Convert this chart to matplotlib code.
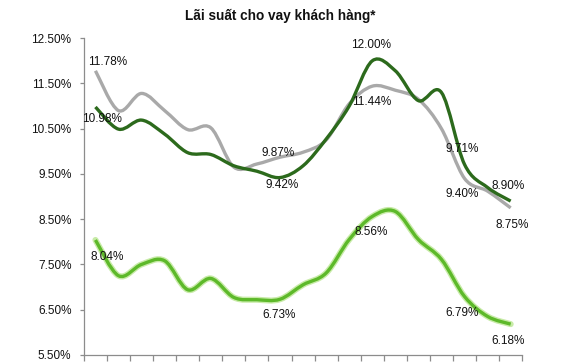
import matplotlib.pyplot as plt
import numpy as np
from matplotlib.path import Path
from matplotlib.patches import PathPatch

plt.rcParams['font.family'] = ['Liberation Sans', 'DejaVu Sans']

# ---- data ----
periods = list(range(1, 20))
gray_rate = [11.78, 10.90, 11.28, 10.90, 10.48, 10.52, 9.65, 9.72, 9.87, 9.98,
             10.25, 11.05, 11.44, 11.35, 11.15, 10.50, 9.40, 9.12, 8.75]
dark_rate = [10.98, 10.49, 10.69, 10.38, 9.97, 9.93, 9.68, 9.56, 9.42, 9.68,
             10.27, 11.00, 12.00, 11.78, 11.12, 11.30, 9.71, 9.20, 8.90]
light_rate = [8.04, 7.25, 7.50, 7.58, 6.94, 7.19, 6.77, 6.72, 6.73, 7.05,
              7.31, 8.05, 8.56, 8.67, 8.05, 7.61, 6.79, 6.35, 6.18]
y_ticks = [5.5, 6.5, 7.5, 8.5, 9.5, 10.5, 11.5, 12.5]

# labelled points: (index, offset in pixels)
gray_labels = [(0, (12, 9)), (8, (-2, 4)), (12, (-1, -16)), (16, (-2, -16)), (18, (2, -17))]
dark_labels = [(0, (7, -12)), (8, (2, -7)), (12, (-1, 16)), (16, (-2, 15)), (18, (-3, 15))]
light_labels = [(0, (12, -17)), (8, (-1, -16)), (12, (-1, -16)), (16, (-2, -16)), (18, (-3, -17))]


def smooth_path(x, y):
    # Excel-style smoothed line: cubic bezier through every point
    pts = np.column_stack([x, y]).astype(float)
    n = len(pts)
    verts = [pts[0]]
    codes = [Path.MOVETO]
    for i in range(n - 1):
        p0 = pts[i - 1] if i > 0 else pts[i]
        p1 = pts[i]
        p2 = pts[i + 1]
        p3 = pts[i + 2] if i + 2 < n else pts[i + 1]
        c1 = p1 + (p2 - p0) / 6.0
        c2 = p2 - (p3 - p1) / 6.0
        verts += [c1, c2, p2]
        codes += [Path.CURVE4] * 3
    return Path(verts, codes)


fig = plt.figure(figsize=(5.67, 3.64), dpi=100)
ax = fig.add_axes([0.148, 0.025, 0.773, 0.870])

x = np.array(periods)

series = [
    (gray_rate, '#A9A9A9', gray_labels, None),
    (dark_rate, '#2C6A1C', dark_labels, None),
    (light_rate, '#5DB92A', light_labels, '#C8EBA8'),
]
for vals, color, labels, glow in series:
    path = smooth_path(x, vals)
    if glow:
        ax.add_patch(PathPatch(path, fill=False, edgecolor=glow, lw=4.4,
                               capstyle='round', joinstyle='round'))
    ax.add_patch(PathPatch(path, fill=False, edgecolor=color, lw=2.4,
                           capstyle='butt', joinstyle='round'))
    for idx, off in labels:
        ax.annotate(f'{vals[idx]:.2f}%', (x[idx], vals[idx]), xytext=off,
                    textcoords='offset pixels', ha='center', va='center',
                    fontsize=8.5, color='#111111', zorder=5)

ax.set_xlim(0.5, 19.5)
ax.set_ylim(5.5, 12.5)
ax.set_yticks(y_ticks)
ax.set_yticklabels([f'{v:.2f}%' for v in y_ticks])
ax.set_xticks(np.arange(0.5, 20.0, 1.0))
ax.set_xticklabels([])

for side in ['top', 'right']:
    ax.spines[side].set_visible(False)
for side in ['left', 'bottom']:
    ax.spines[side].set_color('#8C8C8C')
    ax.spines[side].set_linewidth(0.9)
ax.tick_params(axis='y', length=3, width=0.9, color='#8C8C8C', pad=6,
               labelsize=8.5, labelcolor='#111111')
ax.tick_params(axis='x', length=4, width=0.9, color='#8C8C8C')

fig.text(0.494, 0.956, 'Lãi suất cho vay khách hàng*', ha='center', va='center',
         fontsize=9.8, fontweight='bold', color='#111111')

fig.savefig('out.png', dpi=100)
